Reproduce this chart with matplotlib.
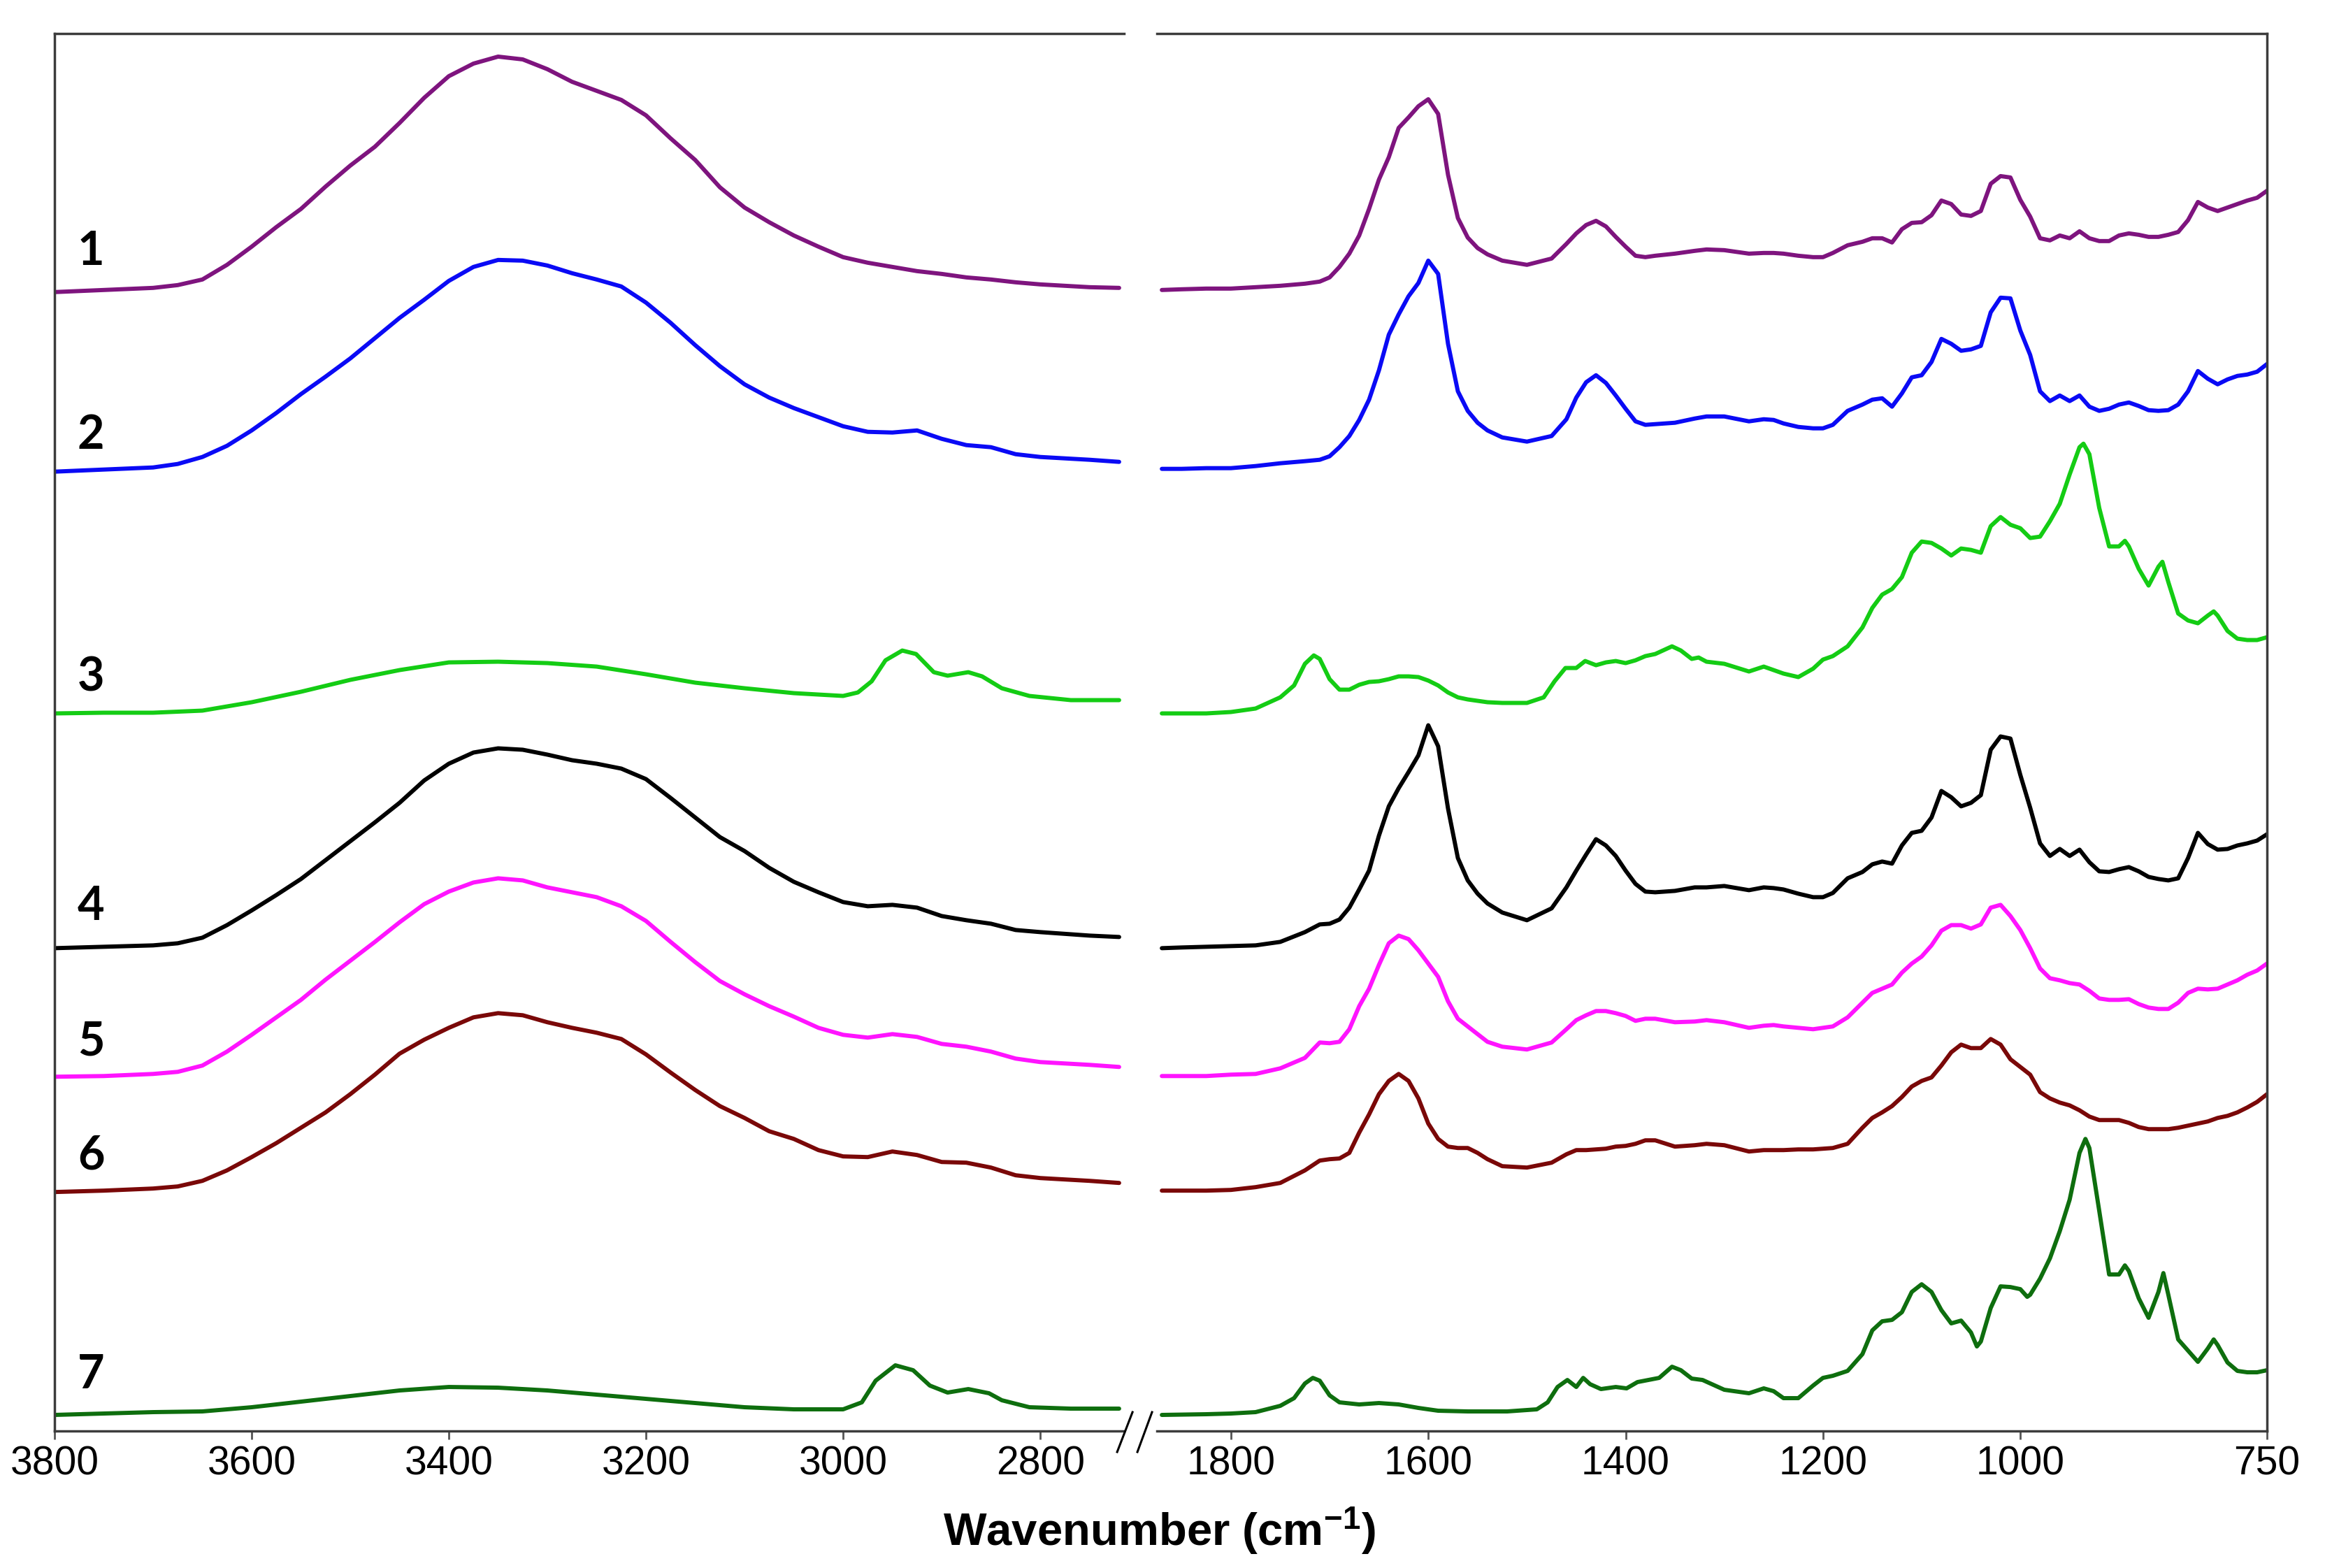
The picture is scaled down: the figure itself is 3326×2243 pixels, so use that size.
import matplotlib
matplotlib.use("Agg")
import matplotlib.pyplot as plt
from matplotlib.lines import Line2D

# ---------------- data (wavenumber in cm-1, stacked absorbance in a.u.) ----------------
wn_left = [3800, 3750, 3700, 3675, 3650, 3625, 3600, 3575, 3550, 3525, 3500, 3475, 3450, 3425,
           3400, 3375, 3350, 3325, 3300, 3275, 3250, 3225, 3200, 3175, 3150, 3125, 3100, 3075,
           3050, 3025, 3000, 2975, 2950, 2925, 2900, 2875, 2850, 2825, 2800, 2750, 2720]

wn_right = [1870, 1850, 1825, 1800, 1775, 1750, 1725, 1710, 1700, 1690,
            1680, 1670, 1660, 1650, 1640, 1630, 1620, 1610, 1600, 1590,
            1580, 1570, 1560, 1550, 1540, 1525, 1500, 1475, 1460, 1450,
            1440, 1430, 1420, 1410, 1400, 1390, 1380, 1370, 1350, 1330, 1318,
            1300, 1275, 1260, 1250, 1240, 1225, 1210, 1200, 1190, 1175,
            1160, 1150, 1140, 1130, 1120, 1110, 1100, 1090, 1080, 1070,
            1060, 1050, 1040, 1030, 1020, 1010, 1000, 990, 980, 970,
            960, 950, 940, 930, 920, 910, 900, 890, 880, 870,
            860, 850, 840, 830, 820, 810, 800, 790, 780, 770, 760, 750]

s1_left = [16.30, 16.33, 16.36, 16.40, 16.48, 16.69, 16.95, 17.23, 17.49, 17.81, 18.11, 18.38, 18.72, 19.08,
           19.39, 19.57, 19.67, 19.63, 19.49, 19.31, 19.18, 19.05, 18.83, 18.50, 18.19, 17.80, 17.51, 17.30,
           17.11, 16.95, 16.80, 16.72, 16.66, 16.60, 16.56, 16.51, 16.48, 16.44, 16.41, 16.37, 16.36]
s1_right = [16.33, 16.34, 16.35, 16.35, 16.37, 16.39, 16.42, 16.45, 16.51, 16.66,
            16.85, 17.11, 17.49, 17.91, 18.23, 18.65, 18.80, 18.96, 19.06, 18.85,
            17.98, 17.36, 17.08, 16.93, 16.84, 16.75, 16.69, 16.78, 16.99, 17.14,
            17.26, 17.32, 17.24, 17.09, 16.95, 16.82, 16.80, 16.82, 16.85, 16.89, 16.91,
            16.90, 16.85, 16.86, 16.86, 16.85, 16.82, 16.80, 16.80, 16.86, 16.97,
            17.02, 17.07, 17.07, 17.01, 17.20, 17.29, 17.30, 17.40, 17.61, 17.56,
            17.41, 17.39, 17.46, 17.85, 17.96, 17.94, 17.62, 17.38, 17.07, 17.04,
            17.11, 17.07, 17.17, 17.07, 17.03, 17.03, 17.11, 17.14, 17.12, 17.09,
            17.09, 17.12, 17.16, 17.33, 17.59, 17.51, 17.46, 17.51, 17.56, 17.61, 17.65, 17.75]

s2_left = [13.73, 13.76, 13.79, 13.84, 13.94, 14.10, 14.32, 14.57, 14.84, 15.09, 15.35, 15.64, 15.93, 16.19,
           16.46, 16.66, 16.76, 16.75, 16.68, 16.57, 16.48, 16.38, 16.15, 15.86, 15.54, 15.24, 14.98, 14.79,
           14.64, 14.51, 14.38, 14.30, 14.29, 14.32, 14.20, 14.11, 14.08, 13.98, 13.94, 13.90, 13.87]
s2_right = [13.77, 13.77, 13.78, 13.78, 13.81, 13.85, 13.88, 13.90, 13.95, 14.08,
            14.24, 14.47, 14.76, 15.18, 15.69, 15.98, 16.24, 16.43, 16.75, 16.56,
            15.56, 14.88, 14.60, 14.43, 14.32, 14.22, 14.16, 14.24, 14.48, 14.79,
            15.01, 15.11, 15.00, 14.82, 14.63, 14.45, 14.40, 14.41, 14.43, 14.49, 14.52,
            14.52, 14.45, 14.48, 14.47, 14.42, 14.37, 14.35, 14.35, 14.40, 14.60,
            14.69, 14.76, 14.78, 14.66, 14.85, 15.08, 15.11, 15.30, 15.63, 15.56,
            15.46, 15.48, 15.53, 16.01, 16.22, 16.21, 15.75, 15.40, 14.88, 14.74,
            14.82, 14.74, 14.82, 14.66, 14.60, 14.63, 14.69, 14.72, 14.67, 14.61,
            14.60, 14.61, 14.69, 14.88, 15.17, 15.06, 14.98, 15.05, 15.10, 15.12, 15.16, 15.27]

wn3_left = [3800, 3750, 3700, 3650, 3600, 3550, 3500, 3450, 3400, 3350, 3300, 3250, 3200, 3150,
            3100, 3050, 3000, 2985, 2971, 2957, 2940, 2926, 2908, 2894, 2873, 2859, 2839, 2811,
            2769, 2720]
s3_left = [10.27, 10.28, 10.28, 10.31, 10.43, 10.58, 10.75, 10.89, 11.00, 11.01, 10.99, 10.94, 10.83,
           10.71, 10.63, 10.56, 10.52, 10.57, 10.73, 11.03, 11.17, 11.12, 10.86, 10.81, 10.86, 10.80,
           10.63, 10.52, 10.46, 10.46]
wn3_right = [1870, 1825, 1800, 1775, 1750, 1736, 1725, 1716, 1710, 1700,
             1690, 1680, 1670, 1660, 1650, 1640, 1630, 1620, 1610, 1600,
             1590, 1580, 1570, 1560, 1550, 1540, 1525, 1500, 1483, 1472,
             1461, 1450, 1441, 1430, 1420, 1410, 1400, 1390, 1380, 1370,
             1353, 1344, 1333, 1326, 1318,
             1300, 1275, 1260, 1250, 1240, 1225, 1210, 1200, 1190, 1175,
             1160, 1150, 1140, 1130, 1120, 1110, 1100, 1090, 1080, 1070,
             1060, 1050, 1040, 1030, 1020, 1010, 1000, 990, 980, 970,
             960, 950, 940, 936, 930, 920, 910, 900, 894, 890, 880, 870, 860, 856,
             850, 840, 830, 820, 810, 804, 800, 790, 780, 770, 760, 750]
s3_right = [10.27, 10.27, 10.29, 10.34, 10.50, 10.67, 10.98, 11.10, 11.05, 10.76,
            10.61, 10.61, 10.68, 10.72, 10.73, 10.76, 10.80, 10.80, 10.79, 10.74,
            10.67, 10.57, 10.50, 10.47, 10.45, 10.43, 10.42, 10.42, 10.50, 10.73,
            10.92, 10.92, 11.02, 10.96, 11.00, 11.02, 10.99, 11.03, 11.09, 11.12,
            11.23, 11.17, 11.05, 11.07, 11.01,
            10.98, 10.87, 10.94, 10.89, 10.84, 10.79, 10.91, 11.04, 11.09, 11.23,
            11.50, 11.78, 11.97, 12.05, 12.22, 12.57, 12.73, 12.71, 12.63, 12.53,
            12.63, 12.61, 12.57, 12.95, 13.08, 12.97, 12.92, 12.78, 12.80, 13.02,
            13.27, 13.69, 14.08, 14.13, 13.98, 13.21, 12.66, 12.66, 12.74, 12.66, 12.34, 12.10, 12.37, 12.44,
            12.15, 11.70, 11.60, 11.56, 11.67, 11.73, 11.67, 11.45, 11.34, 11.32, 11.32, 11.36]

s4_left = [6.91, 6.93, 6.95, 6.98, 7.06, 7.24, 7.45, 7.67, 7.90, 8.17, 8.44, 8.71, 8.99, 9.31,
           9.55, 9.71, 9.77, 9.75, 9.68, 9.60, 9.55, 9.48, 9.33, 9.06, 8.78, 8.50, 8.30, 8.06,
           7.86, 7.71, 7.57, 7.51, 7.53, 7.49, 7.37, 7.31, 7.26, 7.17, 7.14, 7.09, 7.07]
s4_right = [6.91, 6.92, 6.93, 6.94, 6.95, 7.00, 7.14, 7.25, 7.26, 7.32,
            7.49, 7.75, 8.02, 8.52, 8.94, 9.20, 9.43, 9.67, 10.10, 9.80,
            8.91, 8.20, 7.88, 7.69, 7.55, 7.42, 7.31, 7.48, 7.78, 8.02,
            8.25, 8.47, 8.38, 8.23, 8.02, 7.83, 7.72, 7.71, 7.73, 7.78, 7.78,
            7.80, 7.74, 7.78, 7.77, 7.75, 7.69, 7.64, 7.64, 7.70, 7.91,
            8.00, 8.11, 8.15, 8.12, 8.38, 8.56, 8.59, 8.78, 9.16, 9.07,
            8.94, 8.99, 9.10, 9.75, 9.94, 9.91, 9.39, 8.92, 8.41, 8.23,
            8.33, 8.23, 8.32, 8.14, 8.01, 8.00, 8.04, 8.07, 8.01, 7.93,
            7.90, 7.88, 7.91, 8.20, 8.56, 8.40, 8.32, 8.33, 8.38, 8.41, 8.45, 8.54]

s5_left = [5.07, 5.08, 5.11, 5.14, 5.23, 5.43, 5.67, 5.92, 6.17, 6.46, 6.73, 7.00, 7.28, 7.54,
           7.72, 7.85, 7.91, 7.88, 7.78, 7.71, 7.64, 7.51, 7.30, 7.00, 6.71, 6.44, 6.25, 6.08,
           5.93, 5.77, 5.67, 5.63, 5.68, 5.64, 5.54, 5.50, 5.43, 5.33, 5.28, 5.24, 5.21]
s5_right = [5.08, 5.08, 5.08, 5.10, 5.11, 5.19, 5.34, 5.56, 5.55, 5.57,
            5.75, 6.08, 6.33, 6.67, 6.98, 7.09, 7.04, 6.88, 6.69, 6.50,
            6.15, 5.90, 5.79, 5.68, 5.57, 5.50, 5.46, 5.56, 5.75, 5.88,
            5.95, 6.01, 6.01, 5.98, 5.94, 5.87, 5.90, 5.90, 5.85, 5.86, 5.88,
            5.85, 5.77, 5.80, 5.81, 5.79, 5.77, 5.75, 5.77, 5.79, 5.92,
            6.13, 6.27, 6.33, 6.39, 6.56, 6.69, 6.79, 6.95, 7.16, 7.24,
            7.24, 7.19, 7.25, 7.49, 7.53, 7.37, 7.17, 6.91, 6.62, 6.48,
            6.45, 6.41, 6.39, 6.30, 6.19, 6.17, 6.17, 6.18, 6.11, 6.06,
            6.04, 6.04, 6.13, 6.27, 6.33, 6.32, 6.33, 6.39, 6.45, 6.53, 6.59, 6.69]

s6_left = [3.42, 3.44, 3.47, 3.50, 3.58, 3.73, 3.92, 4.12, 4.34, 4.56, 4.82, 5.10, 5.40, 5.60,
           5.77, 5.92, 5.98, 5.95, 5.85, 5.77, 5.70, 5.61, 5.39, 5.13, 4.88, 4.65, 4.48, 4.29,
           4.18, 4.02, 3.93, 3.92, 4.00, 3.95, 3.85, 3.84, 3.77, 3.66, 3.62, 3.58, 3.55]
s6_right = [3.44, 3.44, 3.44, 3.45, 3.49, 3.55, 3.73, 3.87, 3.89, 3.90,
            3.98, 4.27, 4.53, 4.82, 5.01, 5.11, 5.01, 4.76, 4.40, 4.18,
            4.07, 4.05, 4.05, 3.98, 3.89, 3.79, 3.77, 3.84, 3.96, 4.02,
            4.02, 4.03, 4.04, 4.07, 4.08, 4.11, 4.16, 4.16, 4.07, 4.09, 4.11,
            4.09, 4.00, 4.02, 4.02, 4.02, 4.03, 4.03, 4.04, 4.05, 4.11,
            4.34, 4.48, 4.56, 4.65, 4.78, 4.93, 5.01, 5.06, 5.23, 5.42,
            5.53, 5.48, 5.48, 5.61, 5.53, 5.32, 5.21, 5.10, 4.85, 4.76,
            4.70, 4.66, 4.59, 4.50, 4.45, 4.45, 4.45, 4.41, 4.35, 4.32,
            4.32, 4.32, 4.34, 4.37, 4.40, 4.43, 4.48, 4.51, 4.56, 4.63, 4.71, 4.82]

wn7_left = [3800, 3750, 3700, 3650, 3600, 3550, 3500, 3450, 3400, 3350, 3300, 3250, 3200, 3150,
            3100, 3050, 3000, 2981, 2967, 2947, 2929, 2912, 2894, 2873, 2852, 2839, 2811, 2769, 2720]
s7_left = [0.23, 0.25, 0.27, 0.28, 0.34, 0.42, 0.50, 0.58, 0.63, 0.62, 0.58, 0.52, 0.46, 0.40,
           0.34, 0.31, 0.31, 0.41, 0.72, 0.94, 0.87, 0.65, 0.55, 0.60, 0.54, 0.44, 0.34, 0.32, 0.32]
wn7_right = [1870, 1825, 1800, 1775, 1750, 1736, 1725, 1717, 1710, 1700,
             1690, 1670, 1650, 1630, 1610, 1590, 1560, 1520, 1490, 1479,
             1469, 1459, 1450, 1443, 1436, 1425, 1410, 1399, 1388, 1366,
             1353, 1344, 1333, 1322,
             1300, 1275, 1260, 1250, 1240, 1225, 1210, 1200, 1190, 1175,
             1160, 1150, 1140, 1130, 1120, 1110, 1100, 1090, 1080, 1070,
             1060, 1050, 1044, 1040, 1030, 1020, 1010, 1000, 993, 990,
             980, 970, 960, 950, 940, 934, 930, 920, 910, 900,
             894, 890, 880, 870, 860, 855, 850, 840, 830, 820,
             810, 804, 800, 790, 780, 770, 760, 750]
s7_right = [0.23, 0.24, 0.25, 0.27, 0.36, 0.47, 0.68, 0.76, 0.72, 0.51,
            0.41, 0.38, 0.40, 0.38, 0.33, 0.29, 0.28, 0.28, 0.31, 0.41,
            0.63, 0.73, 0.63, 0.76, 0.67, 0.60, 0.63, 0.61, 0.70, 0.76,
            0.92, 0.87, 0.75, 0.73,
            0.59, 0.54, 0.61, 0.57, 0.47, 0.47, 0.65, 0.76, 0.79, 0.86,
            1.10, 1.44, 1.57, 1.59, 1.70, 1.99, 2.10, 1.99, 1.73, 1.54,
            1.58, 1.41, 1.21, 1.28, 1.76, 2.07, 2.06, 2.03, 1.92, 1.95,
            2.18, 2.47, 2.86, 3.31, 3.98, 4.18, 4.05, 3.15, 2.24, 2.24,
            2.37, 2.29, 1.90, 1.62, 1.99, 2.26, 1.95, 1.31, 1.15, 0.99,
            1.18, 1.31, 1.23, 0.98, 0.86, 0.84, 0.84, 0.87]

labels = ["1", "2", "3", "4", "5", "6", "7"]
label_y = [16.88, 14.25, 10.78, 7.50, 5.57, 3.94, 0.80]
colors = ["#7E147E", "#0A0AF5", "#14CC14", "#000000", "#FF14FF", "#7A0808", "#0E6E0E"]

xticks_left = [3800, 3600, 3400, 3200, 3000, 2800]
xticks_right = [1800, 1600, 1400, 1200, 1000, 750]

# ---------------- figure ----------------
plt.rcParams['font.family'] = ['Liberation Sans', 'DejaVu Sans']
plt.rcParams['mathtext.fontset'] = 'custom'
plt.rcParams['mathtext.rm'] = 'Liberation Sans:bold'
plt.rcParams['mathtext.it'] = 'Liberation Sans:bold'
plt.rcParams['mathtext.bf'] = 'Liberation Sans:bold'

fig = plt.figure(figsize=(33.26, 22.43), dpi=100)
ax1 = fig.add_axes([0.02345, 0.08738, 0.46001, 0.89122])
ax2 = fig.add_axes([0.49760, 0.08738, 0.47745, 0.89122])

left_sets = [(wn_left, s1_left), (wn_left, s2_left), (wn3_left, s3_left), (wn_left, s4_left),
             (wn_left, s5_left), (wn_left, s6_left), (wn7_left, s7_left)]
right_sets = [(wn_right, s1_right), (wn_right, s2_right), (wn3_right, s3_right), (wn_right, s4_right),
              (wn_right, s5_right), (wn_right, s6_right), (wn7_right, s7_right)]

lw = 4.3
for (xl, yl), (xr, yr), c in zip(left_sets, right_sets, colors):
    ax1.plot(xl, yl, color=c, lw=lw, solid_joinstyle='round', solid_capstyle='round')
    ax2.plot(xr, yr, color=c, lw=lw, solid_joinstyle='round', solid_capstyle='round')

for lab, yv in zip(labels, label_y):
    ax1.text(3763, yv, lab, fontfamily=['Lato', 'DejaVu Sans'], fontweight='bold',
             fontsize=48, ha='center', va='center', color='black')

ax1.set_xlim(3800, 2715)
ax2.set_xlim(1875, 750)
for ax in (ax1, ax2):
    ax.set_ylim(0, 20)
    ax.set_yticks([])
    ax.tick_params(axis='x', direction='out', length=8.5, width=2, color='#555555',
                   labelsize=41, pad=6, labelcolor='black')
    for sp in ax.spines.values():
        sp.set_color('#3c3c3c')
        sp.set_linewidth(2.5)
ax1.set_xticks(xticks_left)
ax1.set_xticklabels([str(t) for t in xticks_left])
ax2.set_xticks(xticks_right)
ax2.set_xticklabels([str(t) for t in xticks_right])
ax1.spines['right'].set_visible(False)
ax2.spines['left'].set_visible(False)

# axis-break marks
for (x0, x1) in [(0.4805, 0.4871), (0.4892, 0.4955)]:
    fig.add_artist(Line2D([x0, x1], [0.0740, 0.0994], transform=fig.transFigure,
                          color='black', lw=2.2))

fig.text(0.4985, 0.0235, r'Wavenumber (cm$^{-1}$)', ha='center', va='center',
         fontsize=47, fontweight='bold', color='black')

fig.savefig("out.png", dpi=100, facecolor='white')
